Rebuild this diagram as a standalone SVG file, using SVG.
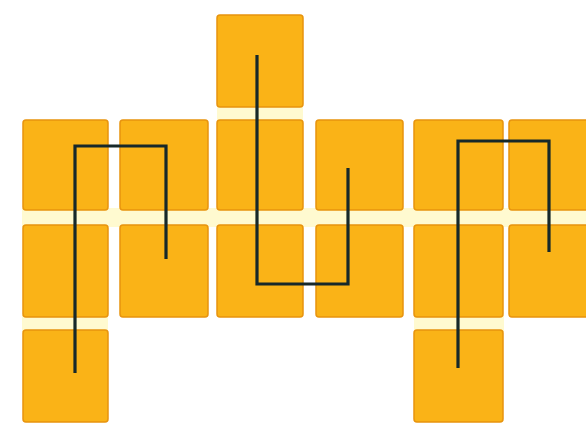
<svg xmlns="http://www.w3.org/2000/svg" width="586" height="424" viewBox="0 0 586 424">
<defs>
<style>
.tile{fill:#FAB317;stroke:#E8940E;stroke-width:1.5}
.wire{fill:none;stroke:#16282A;stroke-width:3.2;stroke-linejoin:miter;stroke-linecap:butt}
.gap{fill:#FFFAD0}
</style>
</defs>
<rect x="0" y="0" width="586" height="424" fill="#FFFFFF"/>
<rect class="gap" x="22" y="208" width="564" height="19"/>
<rect class="gap" x="217" y="105" width="86" height="17"/>
<rect class="gap" x="22" y="315" width="86" height="17"/>
<rect class="gap" x="414" y="315" width="90" height="17"/>
<g id="tiles">
<g id="t-r0c3"><rect class="tile" x="217" y="15" width="86" height="92" rx="3"/></g>
<g id="t-r1c1"><rect class="tile" x="23" y="120" width="85" height="90" rx="3"/></g>
<g id="t-r1c2"><rect class="tile" x="120" y="120" width="88" height="90" rx="3"/></g>
<g id="t-r1c3"><rect class="tile" x="217" y="120" width="86" height="90" rx="3"/></g>
<g id="t-r1c4"><rect class="tile" x="316" y="120" width="87" height="90" rx="3"/></g>
<g id="t-r1c5"><rect class="tile" x="414" y="120" width="89" height="90" rx="3"/></g>
<g id="t-r1c6"><rect class="tile" x="509" y="120" width="80" height="90" rx="3"/></g>
<g id="t-r2c1"><rect class="tile" x="23" y="225" width="85" height="92" rx="3"/></g>
<g id="t-r2c2"><rect class="tile" x="120" y="225" width="88" height="92" rx="3"/></g>
<g id="t-r2c3"><rect class="tile" x="217" y="225" width="86" height="92" rx="3"/></g>
<g id="t-r2c4"><rect class="tile" x="316" y="225" width="87" height="92" rx="3"/></g>
<g id="t-r2c5"><rect class="tile" x="414" y="225" width="89" height="92" rx="3"/></g>
<g id="t-r2c6"><rect class="tile" x="509" y="225" width="80" height="92" rx="3"/></g>
<g id="t-r3c1"><rect class="tile" x="23" y="330" width="85" height="92" rx="3"/></g>
<g id="t-r3c5"><rect class="tile" x="414" y="330" width="89" height="92" rx="3"/></g>
</g>
<g id="connectors">
<path class="wire" d="M75 373 V146 H166 V259"/>
<path class="wire" d="M257 55 V284 H348 V168"/>
<path class="wire" d="M458 368 V141 H549 V252"/>
</g>
</svg>
